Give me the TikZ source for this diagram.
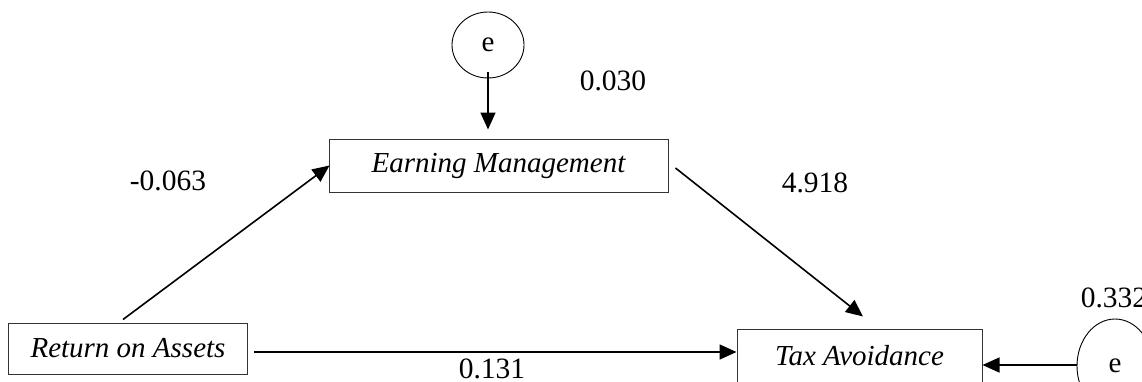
\documentclass[tikz,border=0pt]{standalone}
\usepackage{fontspec}
\setmainfont{Liberation Serif}
\usetikzlibrary{arrows.meta,shapes.geometric}
\begin{document}
\begin{tikzpicture}[x=1pt,y=-1pt,
  varbox/.style={draw=black!80,line width=1pt,rectangle,inner sep=0pt,font=\fontsize{29}{32}\selectfont\itshape},
  errnode/.style={draw=black,line width=0.9pt,ellipse,inner sep=0pt,font=\fontsize{29}{32}\selectfont},
  coef/.style={font=\fontsize{29.5}{32}\selectfont,inner sep=0pt},
  path/.style={line width=1.6pt,-{Triangle[length=17pt,width=15pt]}}]
\useasboundingbox (0,0) rectangle (1142,381);
\node[varbox,minimum width=239pt,minimum height=51pt] (roa) at (128,348.5) {Return on Assets};
\node[varbox,minimum width=339pt,minimum height=53pt] (em) at (498.5,165.5) {Earning Management};
\node[varbox,minimum width=245pt,minimum height=54pt] (ta) at (859.5,356) {Tax Avoidance};
\node[errnode,minimum width=72pt,minimum height=66pt] (e1) at (488,45) {e};
\node[errnode,minimum width=76pt,minimum height=94pt] (e2) at (1115,366) {e};
\draw[path] ([xshift=-5pt,yshift=3pt]roa.north) -- ([xshift=1pt]em.west);
\draw[path] ([xshift=7pt,yshift=-2.5pt]em.east) -- ([xshift=3.5pt,yshift=12pt]ta.north);
\draw[path] ([xshift=6pt,yshift=-3.5pt]roa.east) -- ([yshift=4pt]ta.west);
\draw[path] ([yshift=1pt]e2.west) -- ([yshift=-9pt]ta.east);
\draw[path] ([yshift=6pt]e1.south) -- ([xshift=-10.5pt,yshift=9pt]em.north);
\node[coef] (l1) at (168,181) {-0.063};
\node[coef] (l2) at (613,81) {0.030};
\node[coef] (l3) at (815,183) {4.918};
\node[coef] (l4) at (492,369) {0.131};
\node[coef] (l5) at (1114,298) {0.332};
\end{tikzpicture}
\end{document}
